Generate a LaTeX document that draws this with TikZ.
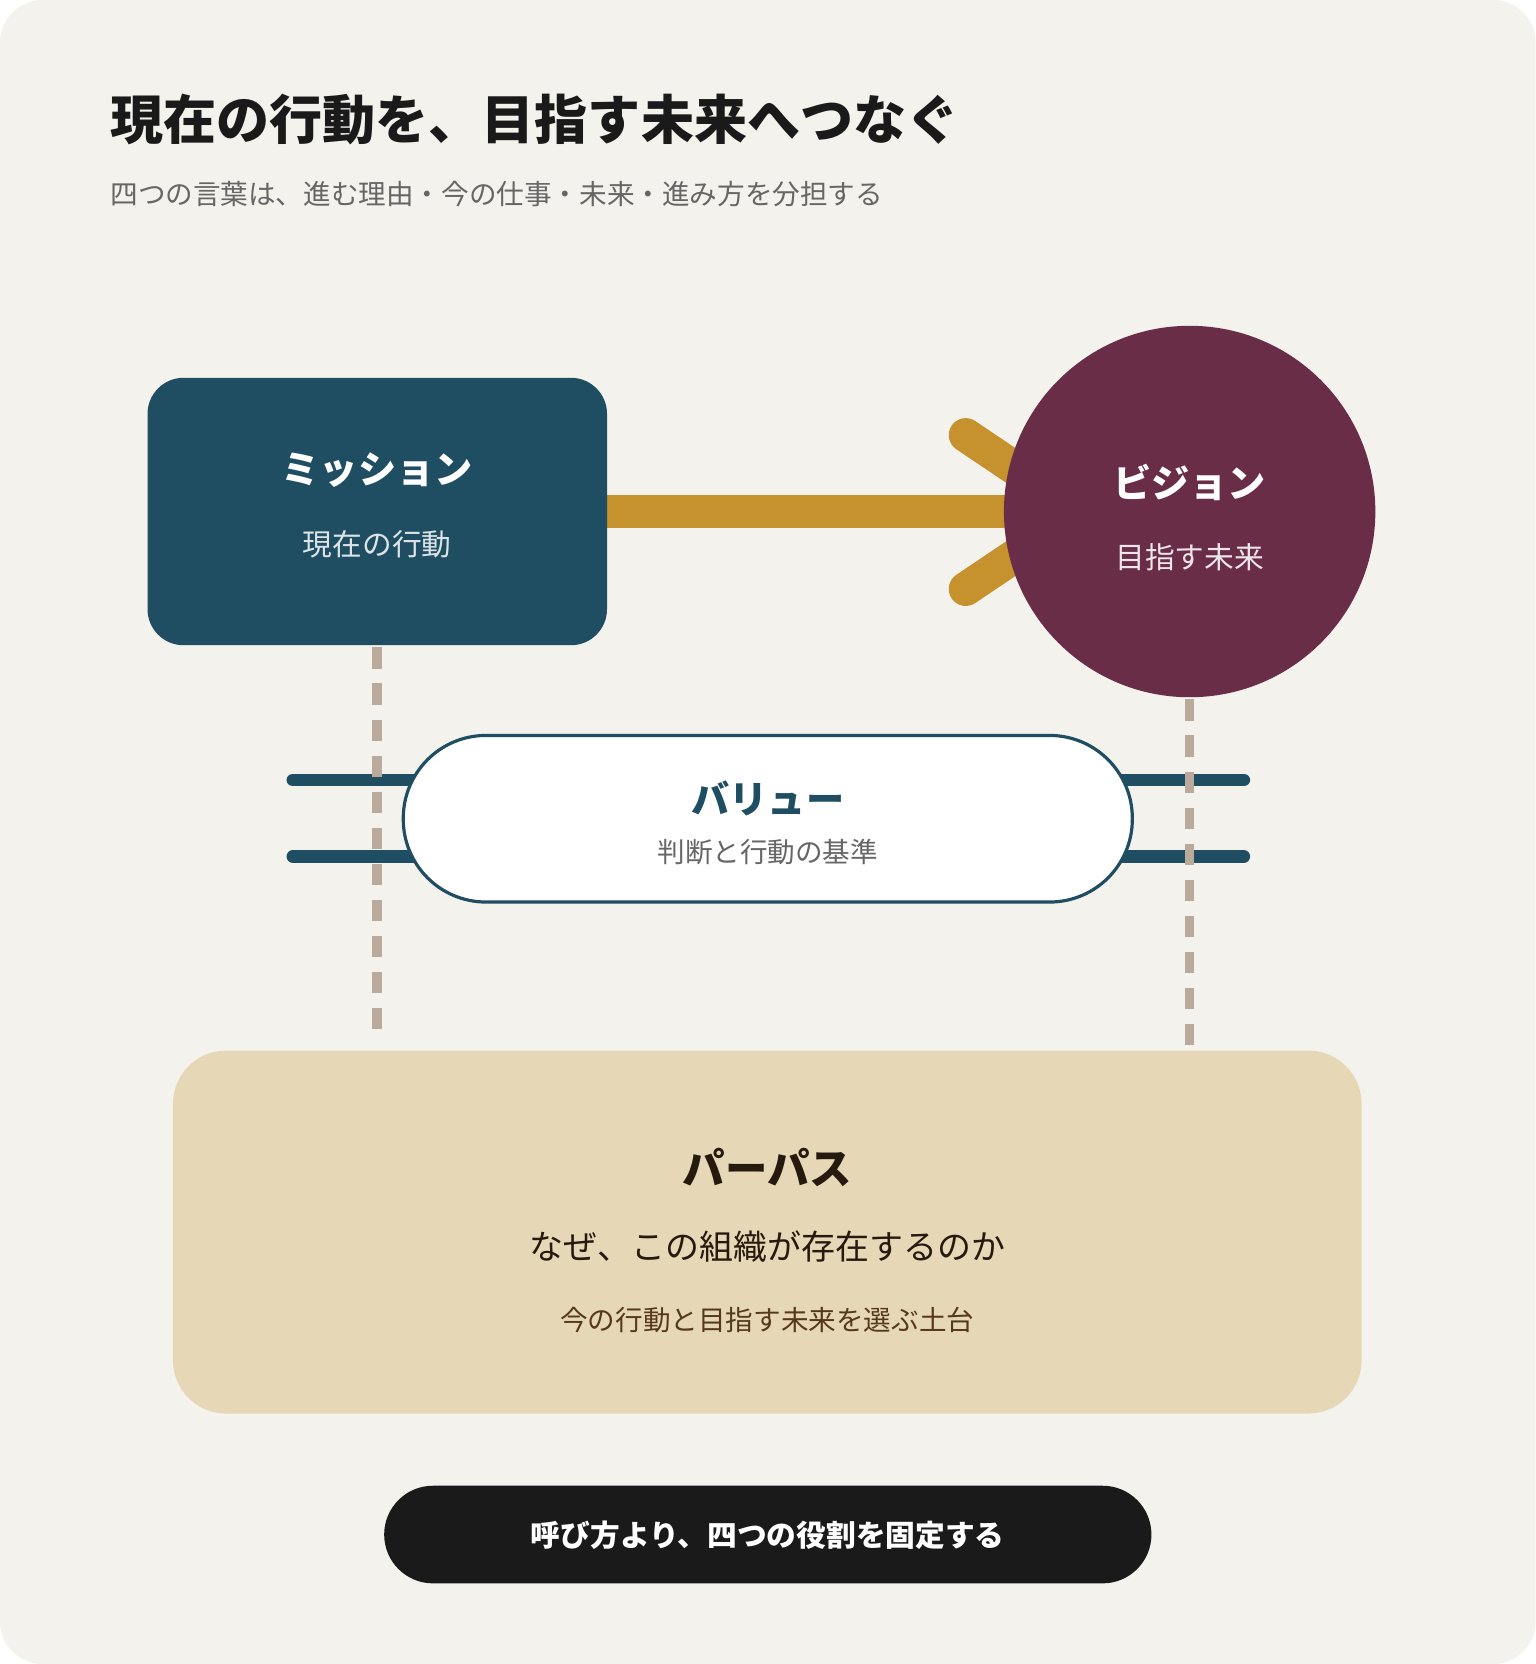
\documentclass[tikz,border=0pt]{standalone}
\usepackage{fontspec}
\setmainfont{Noto Sans CJK JP}
\newfontfamily\jpb{Noto Sans CJK JP}[BoldFont={* Bold}]
\definecolor{bg}{HTML}{F3F2EC}
\definecolor{teal}{HTML}{1F4E63}
\definecolor{gold}{HTML}{C6922E}
\definecolor{wine}{HTML}{6A2D47}
\definecolor{dash}{HTML}{B9AA9B}
\definecolor{sand}{HTML}{E6D8B6}
\definecolor{ink}{HTML}{1A1A1A}
\tikzset{
  fs/.style={font=\fontsize{#1}{#1}\selectfont},
  fb/.style={font=\fontsize{#1}{#1}\selectfont\bfseries},
  dsh/.style={draw=dash,line width=4.5pt,dash pattern=on 10pt off 7pt},
  vline/.style={draw=teal,line width=6pt,line cap=round},
  arr/.style={draw=gold,line width=16pt,line cap=round}
}
\begin{document}
\begin{tikzpicture}[x=0.5pt,y=-0.5pt]
\useasboundingbox (0,0) rectangle (1447,1568);
\fill[white] (0,0) rectangle (1447,1568);
\fill[bg,rounded corners=20pt] (0,0) rectangle (1447,1568);
\node[anchor=west,fb=25,text=ink] (title) at (97,113) {現在の行動を、目指す未来へつなぐ};
\node[anchor=west,fs=13,text=black!60] (sub) at (97,183) {四つの言葉は、進む理由・今の仕事・未来・進み方を分担する};
% arrow
\coordinate (a1) at (572,482); \coordinate (a2) at (965,482);
\coordinate (f1) at (910,410); \coordinate (f1e) at (965,447);
\coordinate (f2) at (910,555); \coordinate (f2e) at (965,518);
\draw[arr] (a1) -- (a2);
\draw[arr] (f1) -- (f1e);
\draw[arr] (f2) -- (f2e);
% mission
\node[fill=teal,rounded corners=17pt,minimum width=216.5pt,minimum height=126pt,inner sep=0] (mis) at (355.5,482) {};
\node[fb=18,text=white] (misT) at (355.5,443) {ミッション};
\node[fs=14,text=white!85!teal] (misS) at (355.5,513) {現在の行動};
% vision
\node[circle,fill=wine,minimum size=175pt,inner sep=0] (vis) at (1121,482) {};
\node[fb=18,text=white] (visT) at (1121,455) {ビジョン};
\node[fs=14,text=white!88!wine] (visS) at (1121,525) {目指す未来};
% value lines
\coordinate (l1a) at (276,735); \coordinate (l1b) at (1172,735);
\coordinate (l2a) at (276,807); \coordinate (l2b) at (1172,807);
\draw[vline] (l1a) -- (l1b);
\draw[vline] (l2a) -- (l2b);
% dashed
\coordinate (d1a) at (355,610); \coordinate (d1b) at (355,976);
\coordinate (d2a) at (1121,659); \coordinate (d2b) at (1121,986);
\draw[dsh] (d1a) -- (d1b);
\draw[dsh] (d2a) -- (d2b);
% value pill
\node[draw=teal,line width=1.5pt,fill=white,rounded corners=39pt,minimum width=343.5pt,minimum height=78.5pt,inner sep=0] (val) at (723.5,771.5) {};
\node[fb=18,text=teal] (valT) at (723.5,752) {バリュー};
\node[fs=13,text=black!60] (valS) at (723.5,803) {判断と行動の基準};
% purpose
\node[fill=sand,rounded corners=25pt,minimum width=560pt,minimum height=171pt,inner sep=0] (pur) at (723,1161) {};
\node[fb=20,text=black!80!brown] (purT) at (723,1100) {パーパス};
\node[fs=16,text=black!80!brown] (purS) at (723,1175) {なぜ、この組織が存在するのか};
\node[fs=13,text=black!55!brown] (purN) at (723,1244) {今の行動と目指す未来を選ぶ土台};
% bottom
\node[fill=ink,rounded corners=23pt,minimum width=361.5pt,minimum height=46pt,inner sep=0] (bot) at (723.5,1446) {};
\node[fb=14,text=white] (botT) at (723.5,1447) {呼び方より、四つの役割を固定する};
\end{tikzpicture}
\end{document}
